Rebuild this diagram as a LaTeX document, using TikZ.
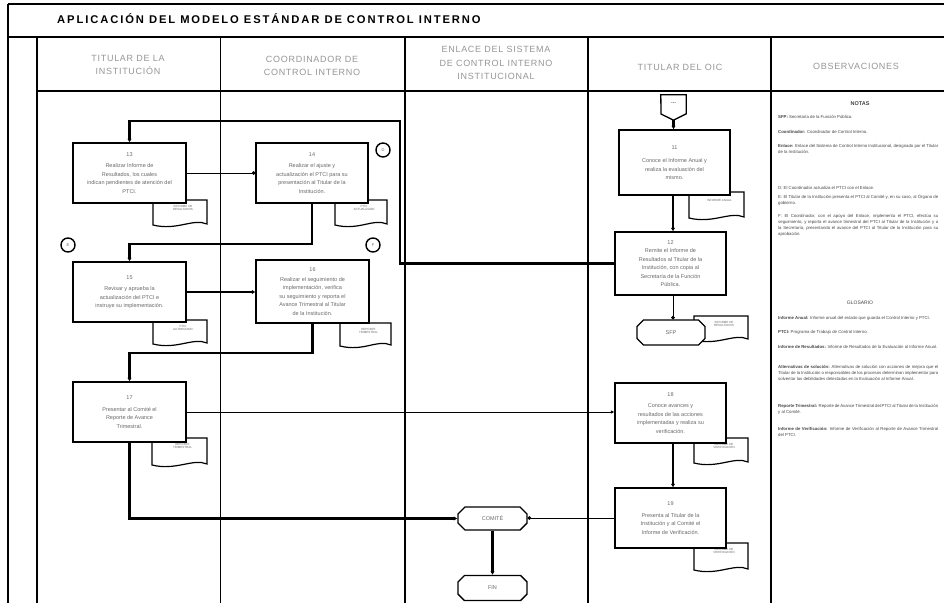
\documentclass[tikz,border=0pt]{standalone}
\usepackage{fontspec}
\setmainfont{Liberation Sans}
\usetikzlibrary{shapes.misc,arrows.meta}
\definecolor{hdr}{RGB}{150,150,150}
\definecolor{txt}{RGB}{105,105,105}
\definecolor{obs}{RGB}{70,70,70}
\newcommand\docshape[6]{%
  \draw[line width=1.2pt,fill=white] (#2,#3) -- (#4,#3) -- (#4,#5-3)
    .. controls (#4-14,#5-9) and (#2+24,#5+4) .. (#2,#5-2) -- cycle;
  \node[doctext] (#1) at ({(#2+#4)/2+3},#3+8) {#6};
}
\begin{document}
\begin{tikzpicture}[x=1pt,y=-1pt,
  box/.style={draw,line width=1.3pt,fill=white,align=center,text=txt,
    font=\fontsize{5.5}{8.5}\selectfont,inner sep=1pt},
  term/.style={draw,line width=1.3pt,fill=white,chamfered rectangle,
    chamfered rectangle xsep=4pt,text=txt,font=\fontsize{5.5}{7}\selectfont,inner sep=1pt},
  doctext/.style={align=center,text=txt,font=\fontsize{3}{3.6}\selectfont,inner sep=0pt},
  conn/.style={draw,circle,line width=1.4pt,fill=white,minimum size=14pt,inner sep=0pt,
    text=txt,font=\fontsize{4}{4}\selectfont},
  hdrtext/.style={align=center,text=hdr,font=\fontsize{9}{13.5}\selectfont\addfontfeature{LetterSpace=8}},
  obstext/.style={anchor=north west,text width=160pt,align=justify,text=obs,inner sep=0pt,
    font=\fontsize{4.3}{6}\selectfont},
  mainln/.style={line width=2.8pt,-{Latex[length=3.5pt,width=4.5pt]}},
  thinln/.style={line width=1pt,-{Latex[length=3.5pt,width=3.5pt]}},
  dotln/.style={line width=1pt,-{Circle[length=3.5pt]}},
  grid/.style={line width=1.1pt}]
\useasboundingbox (0,0) rectangle (944,602);
\fill[white] (0,0) rectangle (944,602);

% ---------- frame ----------
\draw[grid] (8,4) -- (950,4);
\draw[grid] (8,4) -- (8,610);
\draw[grid] (8,37) -- (950,37);
\draw[grid] (37,91) -- (950,91);
\draw[grid] (37,37) -- (37,610);
\draw[line width=1pt] (220,37) -- (220,610);
\draw[line width=1.5pt] (405,37) -- (405,610);
\draw[line width=1.1pt] (588,37) -- (588,91);
\draw[line width=2.6pt] (588,91) -- (588,610);
\draw[line width=1.1pt] (771,37) -- (771,91);
\draw[line width=2pt] (771,91) -- (771,610);

\node[anchor=west,inner sep=0pt,font=\fontsize{11.2}{12}\selectfont\bfseries\addfontfeature{LetterSpace=17}] (title) at (57,19)
  {APLICACIÓN DEL MODELO ESTÁNDAR DE CONTROL INTERNO};

\node[hdrtext] (h1) at (128,65) {TITULAR DE LA\\INSTITUCIÓN};
\node[hdrtext] (h2) at (312,66) {COORDINADOR DE\\CONTROL INTERNO};
\node[hdrtext] (h3) at (496,63) {ENLACE DEL SISTEMA\\DE CONTROL INTERNO\\INSTITUCIONAL};
\node[hdrtext] (h4) at (680,67) {TITULAR DEL OIC};
\node[hdrtext] (h5) at (856,66) {OBSERVACIONES};

% ---------- documents ----------
\docshape{d13}{153}{200}{207}{227}{INFORME DE\\RESULTADOS}
\docshape{d14}{335}{200}{387}{227}{PTCI\\ACTUALIZADO}
\docshape{d15}{153}{320}{207}{346}{PTCI\\AUTORIZADO}
\docshape{d16}{340}{323}{391}{348}{REPORTE\\TRIMESTRAL}
\docshape{d17}{152}{438}{207}{467}{REPORTE\\TRIMESTRAL}
\docshape{d11}{689}{192}{744}{220}{INFORME ANUAL}
\docshape{dsfp}{694}{316}{748}{342}{INFORME DE\\RESULTADOS}
\docshape{d18}{694}{438}{748}{465}{INFORME DE\\VERIFICACIÓN}
\docshape{d19}{694}{543}{748}{572}{INFORME DE\\VERIFICACIÓN}

% ---------- boxes ----------
\node[box,minimum width=113pt,minimum height=60pt] (b13) at (129.5,173)
  {13\\[3pt]Realizar Informe de\\Resultados, los cuales\\indican pendientes de atención del\\PTCI.};
\node[box,minimum width=112pt,minimum height=60pt] (b14) at (312,173)
  {14\\[3pt]Realizar el ajuste y\\actualización el PTCI para su\\presentación al Titular de la\\Institución.};
\node[box,minimum width=113pt,minimum height=60pt] (b15) at (129.5,292)
  {15\\[3pt]Revisar y aprueba la\\actualización del PTCI e\\instruye su implementación.};
\node[box,minimum width=113pt,minimum height=63pt] (b16) at (312.5,291.5)
  {16\\[1pt]Realizar el seguimiento de\\implementación, verifica\\su seguimiento y reporta el\\Avance Trimestral al Titular\\de la Institución.};
\node[box,minimum width=113pt,minimum height=60pt] (b17) at (129.5,412)
  {17\\[3pt]Presentar al Comité el\\Reporte de Avance\\Trimestral.};
\node[box,minimum width=111pt,minimum height=65pt] (b11) at (674.5,162.5)
  {11\\[5pt]Conoce el Informe Anual y\\realiza la evaluación del\\mismo.};
\node[box,minimum width=111pt,minimum height=63pt] (b12) at (670.5,263.5)
  {12\\Remite el Informe de\\Resultados al Titular de la\\Institución, con copia al\\Secretaría de la Función\\Pública.};
\node[box,minimum width=111pt,minimum height=60pt] (b18) at (670.5,413)
  {18\\[3pt]Conoce avances y\\resultados de las acciones\\implementadas y realiza su\\verificación.};
\node[box,minimum width=111pt,minimum height=60pt] (b19) at (670.5,518)
  {19\\[3pt]Presenta al Titular de la\\Institución y al Comité el\\Informe de Verificación.};

\node[term,minimum width=68pt,minimum height=25pt] (sfp) at (671,332.5) {SFP};
\node[term,minimum width=69pt,minimum height=23pt] (comite) at (492.5,518.5) {COMITÉ};
\node[term,minimum width=69pt,minimum height=25pt] (fin) at (492.5,588) {FIN};

% off-page connector
\node[minimum width=25pt,minimum height=25pt,inner sep=0pt] (op) at (673.5,107.5) {};
\draw[line width=1.3pt,fill=white] (op.north west) -- (op.north east) -- ++(0,19) -- (op.south) -- (661,114) -- cycle;
\node[font=\fontsize{6}{6}\selectfont\bfseries,text=txt] (opt) at (673.5,103) {...};

% on-page connectors
\node[conn] (cD) at (383,150) {D};
\node[conn] (cE) at (68,245) {E};
\node[conn] (cF) at (373,245) {F};

% ---------- connectors ----------
\coordinate (k1) at (400,121);
\coordinate (k2) at (0,244);
\coordinate (k3) at (0,353);
\coordinate (v) at (673,0);
\draw[mainln] (op.south) -- (op.south |- b11.north);
\draw[mainln] (v |- b11.south) -- (v |- b12.north);
\draw[dotln] (v |- b12.south) -- (v |- sfp.north);
\draw[mainln] (b12.west) -| (k1) -| (b13.north);
\draw[dotln] (b13.east) -- (b14.west);
\draw[mainln] (b14.south) -- (b14.south |- k2) -| (b15.north);
\draw[mainln] (b15.east) -- (b15.east -| b16.west);
\draw[mainln] (b16.south) -- (b16.south |- k3) -| (b17.north);
\draw[thinln] (b17.east) -- (b17.east -| b18.west);
\draw[mainln] (b17.south) |- (comite.west);
\draw[mainln] (v |- b18.south) -- (v |- b19.north);
\draw[dotln] (b19.west) -- (b19.west -| comite.east);
\draw[mainln] (comite.south) -- (fin.north);

% ---------- observations ----------
\node[font=\fontsize{5.5}{6}\selectfont\bfseries,text=obs] (notas) at (860,104) {NOTAS};
\node[obstext] (o1) at (778,115) {\textbf{SFP:} Secretaría de la Función Pública.};
\node[obstext] (o2) at (778,130) {\textbf{Coordinador:} Coordinador de Control Interno.};
\node[obstext] (o3) at (778,144) {\textbf{Enlace:} Enlace del Sistema de Control Interno Institucional, designado por el Titular de la Institución.};
\node[obstext] (o4) at (778,186) {D: El Coordinador actualiza el PTCI con el Enlace.};
\node[obstext] (o5) at (778,195) {E: El Titular de la Institución presenta el PTCI al Comité y, en su caso, al Órgano de gobierno.};
\node[obstext] (o6) at (778,214) {F: El Coordinador, con el apoyo del Enlace, implementa el PTCI, efectúa su seguimiento, y reporta el avance trimestral del PTCI al Titular de la Institución y a la Secretaría, presentando el avance del PTCI al Titular de la Institución para su aprobación.};
\node[font=\fontsize{5}{6}\selectfont,text=obs] (glos) at (860,303) {GLOSARIO};
\node[obstext] (o7) at (778,316) {\textbf{Informe Anual:} Informe anual del estado que guarda el Control Interno y PTCI.};
\node[obstext] (o8) at (778,330) {\textbf{PTCI:} Programa de Trabajo de Control Interno.};
\node[obstext] (o9) at (778,345) {\textbf{Informe de Resultados:} Informe de Resultados de la Evaluación al Informe Anual.};
\node[obstext] (o10) at (778,365) {\textbf{Alternativas de solución:} Alternativas de solución con acciones de mejora que el Titular de la Institución o responsables de los procesos determinan implementar para solventar las debilidades detectadas en la Evaluación al Informe Anual.};
\node[obstext] (o11) at (778,404) {\textbf{Reporte Trimestral:} Reporte de Avance Trimestral del PTCI al Titular de la Institución y al Comité.};
\node[obstext] (o12) at (778,427) {\textbf{Informe de Verificación:} Informe de Verificación al Reporte de Avance Trimestral del PTCI.};
\end{tikzpicture}
\end{document}
